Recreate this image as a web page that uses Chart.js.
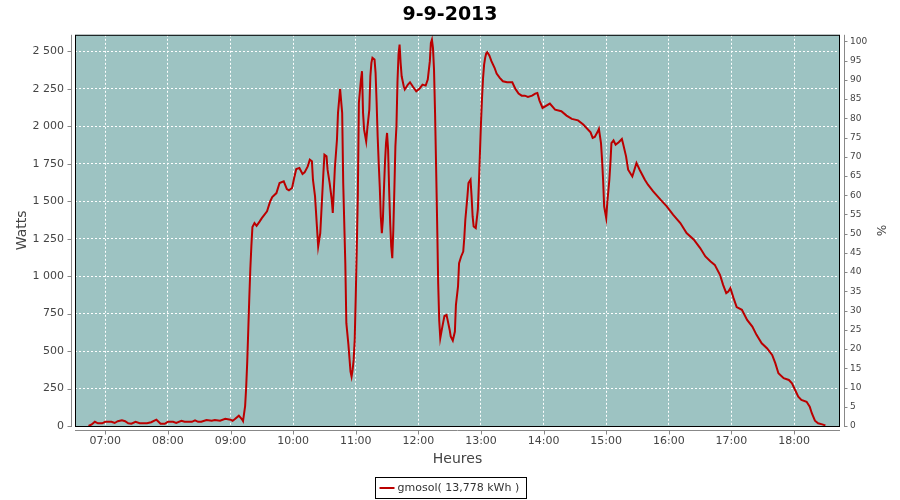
<!DOCTYPE html>
<html>
<head>
<meta charset="utf-8">
<script src="https://cdn.jsdelivr.net/npm/chart.js@4.4.1/dist/chart.umd.min.js"></script>
<style>
  html, body { margin: 0; padding: 0; background: #fff; }
</style>
</head>
<body>
<canvas id="chart" width="900" height="500"></canvas>
<script>
const chartTitle = '9-9-2013';
const seriesLabel = 'gmosol( 13,778 kWh )';

// sample times (HH:MM) and power in watts
const times = [
  '06:44', '06:47', '06:50', '06:53', '06:57', '07:00', '07:06', '07:09', '07:12', '07:16',
  '07:19', '07:22', '07:25', '07:29', '07:33', '07:40', '07:44', '07:49', '07:53', '07:57',
  '08:00', '08:05', '08:08', '08:13', '08:16', '08:23', '08:26', '08:29', '08:32', '08:37',
  '08:42', '08:45', '08:50', '08:55', '09:00', '09:02', '09:04', '09:08', '09:11', '09:12',
  '09:14', '09:15', '09:16', '09:17', '09:18', '09:19', '09:20', '09:21', '09:23', '09:25',
  '09:28', '09:30', '09:35', '09:38', '09:40', '09:44', '09:47', '09:51', '09:54', '09:56',
  '09:59', '10:01', '10:03', '10:06', '10:09', '10:11', '10:14', '10:16', '10:18', '10:19',
  '10:21', '10:23', '10:24', '10:26', '10:27', '10:29', '10:30', '10:32', '10:33', '10:35',
  '10:37', '10:38', '10:40', '10:42', '10:43', '10:45', '10:47', '10:48', '10:50', '10:51',
  '10:53', '10:55', '10:56', '10:57', '10:58', '10:59', '11:00', '11:01', '11:02', '11:03',
  '11:05', '11:06', '11:07', '11:08', '11:10', '11:11', '11:13', '11:14', '11:15', '11:16',
  '11:18', '11:19', '11:20', '11:21', '11:22', '11:23', '11:24', '11:25', '11:26', '11:27',
  '11:28', '11:29', '11:30', '11:31', '11:32', '11:33', '11:34', '11:35', '11:36', '11:37',
  '11:38', '11:39', '11:40', '11:41', '11:42', '11:43', '11:44', '11:46', '11:47', '11:50',
  '11:52', '11:55', '11:58', '12:01', '12:04', '12:07', '12:09', '12:11', '12:12', '12:13',
  '12:14', '12:15', '12:16', '12:17', '12:18', '12:19', '12:20', '12:21', '12:23', '12:25',
  '12:27', '12:28', '12:30', '12:31', '12:33', '12:35', '12:36', '12:38', '12:39', '12:41',
  '12:43', '12:44', '12:45', '12:47', '12:48', '12:50', '12:51', '12:52', '12:53', '12:55',
  '12:57', '12:58', '12:59', '13:00', '13:01', '13:02', '13:03', '13:04', '13:05', '13:06',
  '13:08', '13:10', '13:13', '13:15', '13:18', '13:21', '13:25', '13:30', '13:33', '13:36',
  '13:39', '13:42', '13:45', '13:49', '13:52', '13:54', '13:56', '13:59', '14:06', '14:11',
  '14:17', '14:22', '14:27', '14:33', '14:38', '14:45', '14:47', '14:49', '14:52', '14:53',
  '14:55', '14:56', '14:57', '14:58', '15:00', '15:01', '15:03', '15:04', '15:05', '15:07',
  '15:09', '15:12', '15:15', '15:16', '15:19', '15:21', '15:25', '15:27', '15:29', '15:32',
  '15:37', '15:40', '15:45', '15:52', '15:58', '16:04', '16:11', '16:17', '16:24', '16:30',
  '16:35', '16:40', '16:44', '16:49', '16:52', '16:55', '16:57', '16:59', '17:02', '17:05',
  '17:10', '17:15', '17:20', '17:24', '17:29', '17:34', '17:39', '17:42', '17:45', '17:50',
  '17:55', '17:58', '18:01', '18:04', '18:07', '18:12', '18:15', '18:17', '18:20', '18:23',
  '18:27', '18:30'
];
const watts = [
  0, 10, 28, 18, 18, 28, 28, 20, 32, 38,
  32, 18, 15, 28, 18, 18, 25, 42, 15, 15,
  28, 28, 20, 35, 28, 28, 38, 28, 28, 40,
  35, 40, 35, 48, 42, 35, 45, 69, 45, 33,
  133, 256, 423, 635, 853, 1049, 1202, 1327, 1354, 1336,
  1365, 1387, 1432, 1498, 1528, 1554, 1621, 1632, 1581, 1572,
  1588, 1655, 1715, 1721, 1681, 1692, 1732, 1777, 1766, 1643,
  1532, 1309, 1198, 1287, 1421, 1688, 1810, 1799, 1710, 1621,
  1510, 1421, 1721, 1910, 2089, 2249, 2089, 1621, 1087, 686,
  541, 363, 329, 374, 441, 574, 864, 1187, 1543, 2156,
  2311, 2367, 2089, 1977, 1899, 1977, 2111, 2333, 2423, 2456,
  2445, 2356, 2160, 1932, 1755, 1599, 1398, 1287, 1376, 1576,
  1755, 1888, 1955, 1844, 1576, 1354, 1198, 1120, 1309, 1576,
  1866, 2000, 2300, 2480, 2545, 2423, 2333, 2267, 2245, 2278,
  2293, 2262, 2233, 2249, 2278, 2271, 2311, 2434, 2556, 2578,
  2523, 2378, 2089, 1732, 1354, 950, 700, 586, 663, 735,
  741, 708, 641, 597, 570, 630, 808, 931, 1087, 1131,
  1164, 1254, 1376, 1532, 1621, 1643, 1532, 1398, 1331, 1320,
  1443, 1621, 1821, 2022, 2189, 2323, 2411, 2456, 2485, 2494,
  2472, 2434, 2390, 2351, 2323, 2300, 2293, 2293, 2249, 2218,
  2204, 2204, 2196, 2204, 2218, 2222, 2173, 2122, 2151, 2111,
  2100, 2071, 2049, 2039, 2011, 1959, 1922, 1929, 1966, 1982,
  1888, 1777, 1643, 1465, 1387, 1488, 1643, 1755, 1888, 1906,
  1877, 1893, 1915, 1888, 1799, 1710, 1665, 1710, 1755, 1710,
  1643, 1610, 1565, 1510, 1465, 1410, 1354, 1287, 1243, 1187,
  1131, 1097, 1075, 1009, 942, 886, 897, 920, 853, 793,
  775, 708, 663, 608, 552, 519, 474, 419, 352, 319,
  307, 285, 240, 196, 174, 162, 129, 85, 35, 18,
  11, 4
];

const hourTicks = ['07:00', '08:00', '09:00', '10:00', '11:00', '12:00', '13:00', '14:00', '15:00', '16:00', '17:00', '18:00'];
const wattTicks = [0, 250, 500, 750, 1000, 1250, 1500, 1750, 2000, 2250, 2500];
const pctTicks = [0, 5, 10, 15, 20, 25, 30, 35, 40, 45, 50, 55, 60, 65, 70, 75, 80, 85, 90, 95, 100];

const plotBg = '#9dc3c2';
const lineColor = '#bb0000';
const axisColor = '#888888';
const textColor = '#444444';
const fontFamily = '"DejaVu Sans", sans-serif';

function toMinutes(s) {
    const [h, m] = s.split(':').map(Number);
    return h * 60 + m;
}

function fmtTime(v) {
    const h = Math.floor(v / 60);
    const m = Math.round(v % 60);
    return String(h).padStart(2, '0') + ':' + String(m).padStart(2, '0');
}

function fmtWatts(v) {
    if (v < 1000) return String(v);
    return Math.floor(v / 1000) + ' ' + String(v % 1000).padStart(3, '0');
}

const points = times.map((t, i) => ({ x: toMinutes(t), y: watts[i] }));

// plot background, frame, detached axis lines and the boxed legend
const framePlugin = {
    id: 'frame',
    beforeDraw(chart) {
        const { ctx, chartArea: a } = chart;
        ctx.save();
        ctx.fillStyle = plotBg;
        ctx.fillRect(a.left, a.top, a.right - a.left, a.bottom - a.top);
        ctx.restore();
    },
    afterDraw(chart) {
        const { ctx, chartArea: a } = chart;
        const xs = chart.scales.x, ys = chart.scales.y, ps = chart.scales.y2;
        ctx.save();

        ctx.strokeStyle = '#000';
        ctx.lineWidth = 1;
        ctx.strokeRect(a.left + 0.5, a.top + 0.5, a.right - a.left - 1, a.bottom - a.top);

        ctx.strokeStyle = axisColor;
        ctx.beginPath();
        const lx = Math.round(a.left - 4) + 0.5;
        ctx.moveTo(lx, a.top);
        ctx.lineTo(lx, a.bottom + 1);
        wattTicks.forEach(v => {
            const y = Math.round(ys.getPixelForValue(v)) + 0.5;
            ctx.moveTo(lx - 4, y);
            ctx.lineTo(lx, y);
        });
        const by = Math.round(a.bottom + 4) + 0.5;
        ctx.moveTo(a.left, by);
        ctx.lineTo(a.right, by);
        hourTicks.forEach(t => {
            const x = Math.round(xs.getPixelForValue(toMinutes(t))) + 0.5;
            ctx.moveTo(x, by);
            ctx.lineTo(x, by + 4);
        });
        const rx = Math.round(a.right + 4) + 0.5;
        ctx.moveTo(rx, a.top);
        ctx.lineTo(rx, a.bottom + 1);
        pctTicks.forEach(v => {
            const y = Math.round(ps.getPixelForValue(v)) + 0.5;
            ctx.moveTo(rx, y);
            ctx.lineTo(rx + 3, y);
        });
        ctx.stroke();

        // legend
        ctx.font = '11px ' + fontFamily;
        const tw = ctx.measureText(seriesLabel).width;
        const boxW = Math.round(tw + 29);
        const boxH = 21;
        const x0 = Math.round(chart.width / 2 - boxW / 2) + 0.5;
        const y0 = 477.5;
        ctx.fillStyle = '#fff';
        ctx.fillRect(x0, y0, boxW, boxH);
        ctx.strokeStyle = '#000';
        ctx.strokeRect(x0, y0, boxW, boxH);
        ctx.strokeStyle = lineColor;
        ctx.lineWidth = 2;
        ctx.beginPath();
        ctx.moveTo(x0 + 4, y0 + boxH / 2);
        ctx.lineTo(x0 + 19, y0 + boxH / 2);
        ctx.stroke();
        ctx.fillStyle = '#333';
        ctx.textBaseline = 'middle';
        ctx.fillText(seriesLabel, x0 + 22, y0 + boxH / 2 + 0.5);
        ctx.restore();
    }
};

const ctx = document.getElementById('chart').getContext('2d');
new Chart(ctx, {
    type: 'line',
    data: {
        datasets: [{
            label: seriesLabel,
            data: points,
            borderColor: lineColor,
            borderWidth: 2,
            pointRadius: 0,
            tension: 0,
            fill: false,
            yAxisID: 'y'
        }]
    },
    options: {
        responsive: false,
        animation: false,
        devicePixelRatio: 1,
        layout: { padding: { left: 0, right: 0, top: 0, bottom: 30 } },
        plugins: {
            legend: { display: false },
            tooltip: { enabled: false },
            title: {
                display: true,
                text: chartTitle,
                color: '#000',
                font: { family: fontFamily, size: 19, weight: 'bold' },
                padding: { top: 4, bottom: 8 }
            }
        },
        scales: {
            x: {
                type: 'linear',
                min: 391,
                max: 1124,
                afterBuildTicks: s => { s.ticks = hourTicks.map(t => ({ value: toMinutes(t) })); },
                afterFit: s => { s.height = 44; },
                ticks: {
                    callback: v => fmtTime(v),
                    color: textColor,
                    font: { family: fontFamily, size: 11 },
                    padding: 9,
                    autoSkip: false,
                    maxRotation: 0
                },
                grid: { color: '#ffffff', lineWidth: 1, drawTicks: false },
                border: { display: false, dash: [2, 2] },
                title: {
                    display: true,
                    text: 'Heures',
                    color: textColor,
                    font: { family: fontFamily, size: 14 },
                    padding: { top: 0, bottom: 2 }
                }
            },
            y: {
                position: 'left',
                min: 0,
                max: 2610,
                afterBuildTicks: s => { s.ticks = wattTicks.map(v => ({ value: v })); },
                afterFit: s => { s.width = 75; },
                ticks: {
                    callback: v => fmtWatts(v),
                    color: textColor,
                    font: { family: fontFamily, size: 11 },
                    padding: 11
                },
                grid: { color: '#ffffff', lineWidth: 1, drawTicks: false },
                border: { display: false, dash: [2, 2] },
                title: {
                    display: true,
                    text: 'Watts',
                    color: textColor,
                    font: { family: fontFamily, size: 14 },
                    padding: { top: 14, bottom: 0 }
                }
            },
            y2: {
                position: 'right',
                min: 0,
                max: 101.7,
                afterBuildTicks: s => { s.ticks = pctTicks.map(v => ({ value: v })); },
                afterFit: s => { s.width = 60; },
                ticks: {
                    color: textColor,
                    font: { family: fontFamily, size: 9 },
                    padding: 10,
                    autoSkip: false
                },
                grid: { display: false, drawTicks: false },
                border: { display: false },
                title: {
                    display: true,
                    text: '%',
                    color: textColor,
                    font: { family: fontFamily, size: 12 },
                    padding: { top: 13, bottom: 0 }
                }
            }
        }
    },
    plugins: [framePlugin]
});
</script>
</body>
</html>
